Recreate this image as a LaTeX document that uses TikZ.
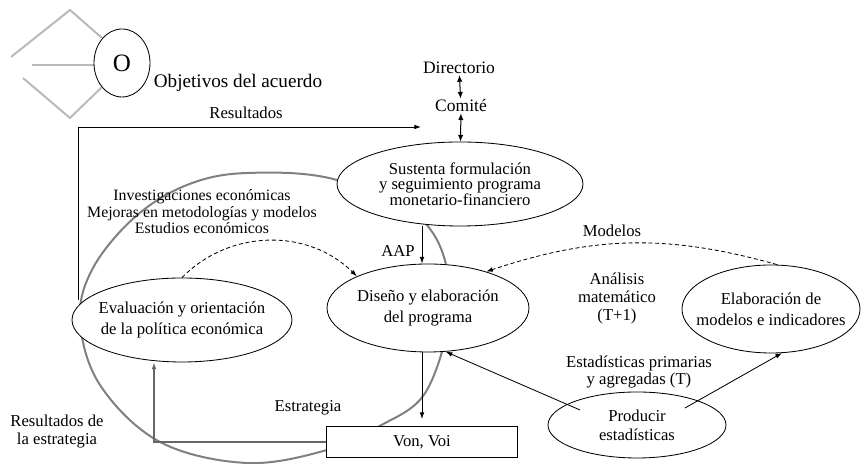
\documentclass[tikz,border=0pt]{standalone}
\usepackage{fontspec}
\setmainfont{Liberation Serif}
\usetikzlibrary{shapes.geometric,arrows.meta,calc}
\tikzset{
  ell/.style={draw,ellipse,fill=white,align=center,inner xsep=-8pt,inner ysep=0pt,line width=0.5pt},
  vonbox/.style={draw,fill=white,line width=0.9pt,minimum width=114.6pt,minimum height=18.6pt,inner sep=0pt},
  deco/.style={draw=black!27,line width=1.2pt},
  ring/.style={draw=black!50,line width=1.2pt},
  flow/.style={-{Latex[length=4pt,width=2.8pt]},line width=0.5pt},
  back/.style={-{Latex[length=4pt,width=2.8pt]},draw=black!60,line width=0.8pt},
  twoway/.style={{Latex[length=4pt,width=3.2pt]}-{Latex[length=4pt,width=3.2pt]},line width=0.6pt},
  hint/.style={-{Latex[length=4pt,width=2.8pt]},line width=0.5pt,dash pattern=on 2.4pt off 1.6pt}
}
\begin{document}
\begin{tikzpicture}[x=0.6pt,y=0.6pt,every node/.style={font=\fontsize{10}{12.4}\selectfont}]
  \useasboundingbox (0,0) rectangle (861,464);
  % objetivos
  \draw[deco] (11,407)--(70,454)--(102,426);
  \draw[deco] (32,399)--(95,399);
  \draw[deco] (23,386)--(70,346)--(102,377);
  \node[ell,minimum width=33.6pt,minimum height=40.8pt,font=\fontsize{15}{15}\selectfont] (obj) at (122,401) {O};
  \node[font=\fontsize{11.5}{13}\selectfont] (objtxt) at (238,381) {Objetivos del acuerdo};
  % gray ring
  \draw[ring] plot[smooth cycle,tension=0.6] coordinates {(247,291) (337,284) (425,241) (450,164) (427,74) (378,37) (327,14) (247,1) (160,22) (100,79) (80,144) (93,196) (135,247) (187,279)};
  % top
  \node[font=\fontsize{10.5}{12}\selectfont,inner sep=0.5pt] (dir) at (459,396) {Directorio};
  \node[font=\fontsize{10.5}{12}\selectfont,inner sep=0.5pt] (com) at (461,358) {Comité};
  \node[ell,minimum width=147.6pt,minimum height=50.4pt,font=\fontsize{10}{9.3}\selectfont] (sus) at (460,280)
    {Sustenta formulación\\y seguimiento programa\\monetario-financiero};
  \draw[twoway] (dir) -- (com);
  \draw[twoway] (com) -- (sus);
  % main ellipses
  \node[ell,minimum width=121.2pt,minimum height=52.8pt] (dis) at (428,156) {Diseño y elaboración\\del programa};
  \node[ell,minimum width=132pt,minimum height=50.4pt] (eva) at (182,144) {Evaluación y orientación\\de la política económica};
  \node[ell,minimum width=106.8pt,minimum height=52.8pt] (elab) at (771,155) {Elaboración de\\modelos e indicadores};
  \node[ell,minimum width=106.8pt,minimum height=39.6pt,font=\fontsize{10}{11.4}\selectfont] (prod) at (637,39) {Producir\\estadísticas};
  \node[vonbox] (von) at (422,22) {Von, Voi};
  % labels
  \node (res) at (246,351) {Resultados};
  \node[align=center,font=\fontsize{9.5}{9.9}\selectfont] (inv) at (202,252)
    {Investigaciones económicas\\Mejoras en metodologías y modelos\\Estudios económicos};
  \node (aap) at (398,213) {AAP};
  \node (mod) at (612,233) {Modelos};
  \node[align=center,font=\fontsize{10}{10.8}\selectfont] (ana) at (617,166) {Análisis\\matemático\\(T+1)};
  \node[align=center,font=\fontsize{10}{10.2}\selectfont] (est) at (639,92) {Estadísticas primarias\\y agregadas (T)};
  \node (estr) at (308,56) {Estrategia};
  \node[align=center,font=\fontsize{10}{10.8}\selectfont] (resest) at (57,32) {Resultados de\\la estrategia};
  % connectors
  \coordinate (resl) at (78,164);
  \coordinate (resr) at (421,337);
  \draw[flow] (resl) |- (resr);
  \draw[flow] (sus.south -| von) -- (dis.north -| von);
  \draw[flow,shorten >=4pt] (dis.south -| von) -- (von.north);
  \draw[back] (von.west) -| ($(eva.south)+(-28,0)$);
  \draw[flow] ($(prod)+(-57,15)$) -- (dis.-68);
  \draw[flow] ($(prod)+(48,17)$) -- (elab.-76);
  \draw[hint] (eva.north) to[bend left=45] (dis.156);
  \draw[hint] ($(elab.north)+(6,0)$) to[bend right=17] (dis.32);
\end{tikzpicture}
\end{document}
